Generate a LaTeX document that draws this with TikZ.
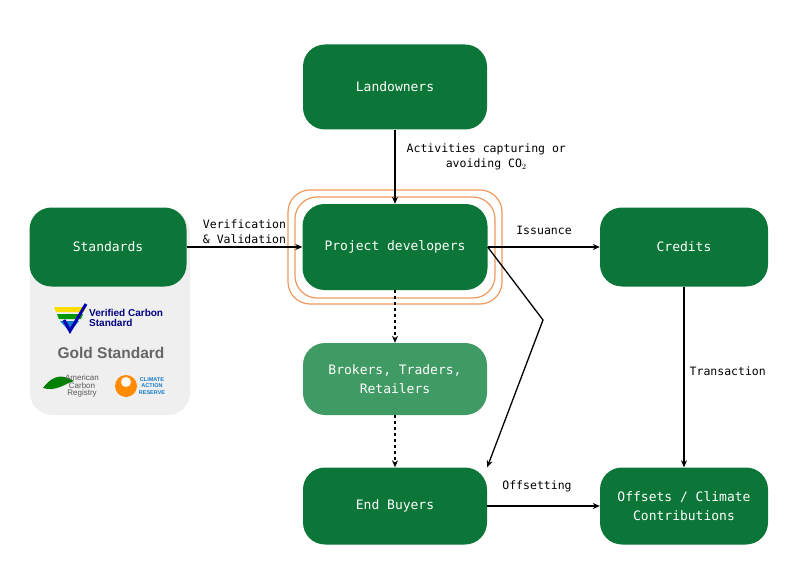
\documentclass[tikz,border=0pt]{standalone}
\usepackage{fontspec}
\setmainfont{Liberation Sans}
\newfontfamily\monof{DejaVu Sans Mono}
\usetikzlibrary{arrows.meta}
\definecolor{dg}{HTML}{0B7637}
\definecolor{lg}{HTML}{409A63}
\definecolor{pan}{HTML}{EFEFF0}
\definecolor{org}{HTML}{EE9A5E}
\begin{document}
\begin{tikzpicture}[x=1pt,y=-1pt,
 box/.style={fill=dg,rounded corners=22pt,text=white,font=\monof\fontsize{13}{19}\selectfont,align=center,inner sep=0pt},
 lab/.style={font=\monof\fontsize{11.5}{15}\selectfont,align=center,inner sep=1pt},
 arr/.style={-{Stealth[length=7pt,width=6pt]},line width=1.3pt}]
\useasboundingbox (0,0) rectangle (800,583);
\fill[pan,rounded corners=22pt] (30,210) rectangle (190,415);
\node[box,minimum width=184pt,minimum height=85pt] (land) at (395,87) {Landowners};
\node[box,minimum width=157pt,minimum height=79pt] (std) at (108,247) {Standards};
\draw[org,line width=1.2pt,rounded corners=22pt] (288,190) rectangle (502,304);
\draw[org,line width=1.2pt,rounded corners=22pt] (295,197) rectangle (495,298);
\node[box,minimum width=185pt,minimum height=86pt] (pd) at (395,247) {Project developers};
\node[box,minimum width=168pt,minimum height=79pt] (cred) at (684,247) {Credits};
\node[box,fill=lg,minimum width=184pt,minimum height=72pt] (brok) at (395,379) {Brokers, Traders,\\Retailers};
\node[box,minimum width=184pt,minimum height=77pt] (end) at (395,506) {End Buyers};
\node[box,minimum width=168pt,minimum height=77pt] (off) at (684,506) {Offsets / Climate\\Contributions};
\coordinate (bend) at (543,320);
\draw[arr] (land) -- (pd) node[lab,anchor=west] at (405,157) {Activities capturing or\\avoiding CO$_2$};
\draw[arr] (std) -- (pd) node[lab,midway,above=2pt] {Verification\\\& Validation};
\draw[arr] (pd) -- (cred) node[lab] at (544,230) {Issuance};
\draw[arr] (pd.east) -- (bend) -- (end.north east);
\draw[arr,dashed] (pd) -- (brok);
\draw[arr,dashed] (brok) -- (end);
\draw[arr] (cred) -- (off) node[lab,anchor=west] at (688,371) {Transaction};
\draw[arr] (end) -- (off) node[lab] at (537,486) {Offsetting};
% logos
\fill[yellow!80!orange] (54,307) -- (86,307) -- (84,312) -- (56,312) -- cycle;
\fill[green!60!black] (57,314) -- (83,314) -- (81,319) -- (59,319) -- cycle;
\fill[cyan!60!blue] (60,321) -- (79,321) -- (70,332) -- cycle;
\draw[blue!70!black,line width=3pt] (64,320) -- (70,331) -- (86,304);
\node[font=\bfseries\fontsize{10}{10}\selectfont,text=blue!50!black,align=left,anchor=west,inner sep=0] at (89,318) {Verified Carbon\\Standard};
\node[font=\bfseries\fontsize{15.5}{15.5}\selectfont,text=gray!80!black,inner sep=0] (gs) at (111,353) {Gold Standard};
\fill[green!50!black] (43,388) .. controls (55,372) and (65,376) .. (74,381) .. controls (64,384) and (56,392) .. cycle;
\node[font=\fontsize{8}{7.5}\selectfont,text=gray!70!black,align=center,inner sep=0] at (82,386) {American\\Carbon\\Registry};
\fill[orange!90!yellow] (126,386) circle (11pt);
\fill[white] (126,382) circle (5pt);
\node[font=\bfseries\fontsize{5.5}{6.5}\selectfont,text=cyan!60!blue,align=center,inner sep=0] at (152,386) {CLIMATE\\ACTION\\RESERVE};
\end{tikzpicture}
\end{document}
